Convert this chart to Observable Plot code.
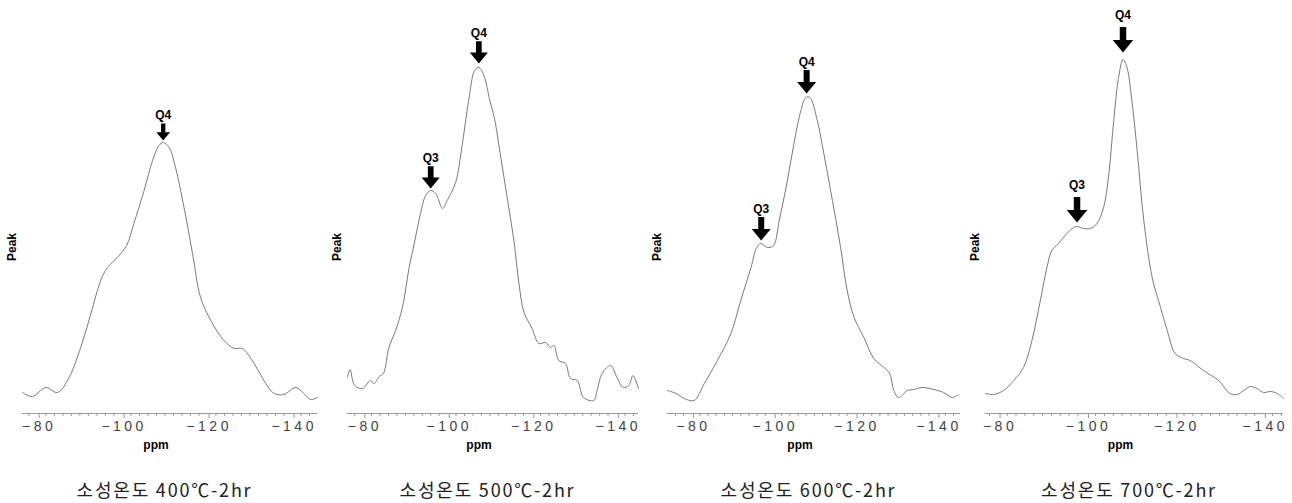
<!DOCTYPE html>
<html>
<head>
<meta charset="utf-8">
<script src="https://cdn.jsdelivr.net/npm/d3@7"></script>
<script src="https://cdn.jsdelivr.net/npm/@observablehq/plot@0.6"></script>
<style>
  body { margin: 0; background: #fff; }
  #wrap { position: relative; width: 1292px; height: 503px; overflow: hidden; background: #fff; }
  .panel { position: absolute; top: 0; }
  .cap { position: absolute; top: 479px; line-height: 20px; font-family: "Noto Sans CJK KR", sans-serif;
         font-size: 18px; letter-spacing: 1.8px; color: #222; white-space: nowrap; transform: translateX(-50%); }
</style>
</head>
<body>
<div id="wrap"></div>
<script>
// ---- data ----
const captions = ["소성온도 400℃-2hr", "소성온도 500℃-2hr", "소성온도 600℃-2hr", "소성온도 700℃-2hr"];
const tickValues = [-80, -100, -120, -140];

const ppm400 = [-76.5,-78.8,-82.0,-84.7,-87.1,-90.2,-92.6,-94.9,-96.5,-98.8,-101.0,-102.7,-105.1,-107.1,-108.6,-109.6,-111.0,-112.5,-114.5,-116.5,-118.4,-120.8,-123.9,-126.3,-128.2,-131.0,-133.3,-135.7,-138.0,-140.8,-142.7,-144.3,-145.9];
const peak400 = [19,15,24,19,31,64,98,131,144,154,166,188,221,251,266,269,264,244,204,158,114,91,71,63,63,48,31,18,17,24,18,12,14];

const ppm500 = [-76.3,-76.9,-78.0,-79.9,-81.7,-82.6,-83.8,-84.8,-86.1,-87.7,-89.3,-90.9,-92.1,-93.6,-94.8,-96.0,-97.2,-98.8,-99.9,-101.9,-103.5,-105.1,-106.4,-107.4,-108.6,-110.0,-111.1,-112.6,-114.1,-115.7,-116.9,-118.1,-120.0,-121.6,-123.2,-124.4,-125.2,-126.3,-127.9,-129.1,-130.7,-132.2,-134.6,-135.4,-136.6,-138.6,-140.1,-141.6,-142.9,-143.9,-145.2];
const peak500 = [34,42,26,23,31,28,35,38,64,81,104,144,168,198,216,221,218,203,211,229,268,314,341,344,336,311,293,254,214,171,128,99,83,68,69,64,66,51,48,33,31,14,11,21,38,46,34,24,26,36,23];

const ppm600 = [-74.1,-76.2,-78.2,-80.6,-83.1,-86.3,-89.6,-92.0,-94.5,-95.9,-96.9,-98.5,-100.0,-101.4,-103.4,-105.0,-106.7,-107.9,-108.9,-110.7,-112.3,-114.4,-116.4,-118.0,-119.7,-122.1,-124.5,-127.0,-128.4,-129.4,-130.6,-132.7,-134.3,-136.3,-139.2,-141.6,-143.7,-145.3];
const peak600 = [21,18,13,11,28,51,78,111,144,164,168,164,166,191,231,268,301,314,314,291,258,211,164,121,94,74,53,44,38,21,14,21,22,24,22,19,14,17];

const ppm700 = [-77.1,-78.9,-81.2,-83.5,-85.7,-87.6,-89.5,-91.0,-92.1,-93.6,-95.5,-96.7,-97.8,-99.3,-100.8,-102.3,-103.8,-105.0,-106.1,-107.2,-108.2,-109.1,-110.2,-111.4,-112.9,-114.8,-116.7,-118.2,-120.0,-121.9,-123.4,-126.4,-129.8,-132.4,-134.0,-135.5,-137.0,-138.5,-140.0,-141.5,-143.1,-144.5];
const peak700 = [18,17,21,31,44,71,111,144,161,168,178,183,185,183,183,188,204,238,291,334,352,344,311,261,191,134,104,81,58,53,51,41,31,18,17,21,25,23,19,20,18,13];

// Q-site arrow annotations (label, ppm, intensity the arrow points at)
const qLabels400 = ["Q4"],        qPpm400 = [-109.6],        qInt400 = [271];
const qLabels500 = ["Q3", "Q4"],  qPpm500 = [-96.0, -107.4], qInt500 = [223, 348];
const qLabels600 = ["Q3", "Q4"],  qPpm600 = [-97.0, -108.1], qInt600 = [171, 318];
const qLabels700 = ["Q3", "Q4"],  qPpm700 = [-97.8, -108.2], qInt700 = [189, 359];

// ---- layout (styles / positions) ----
const panels = [
  {ppm: ppm400, val: peak400, ql: qLabels400, qp: qPpm400, qi: qInt400, left: 2,   len: 295, dom: [-76.5, -145.9], arrow: 0.72, lab: 25},
  {ppm: ppm500, val: peak500, ql: qLabels500, qp: qPpm500, qi: qInt500, left: 327, len: 291, dom: [-76.3, -145.2], arrow: 0.95, lab: 30},
  {ppm: ppm600, val: peak600, ql: qLabels600, qp: qPpm600, qi: qInt600, left: 647, len: 293, dom: [-74.1, -145.7], arrow: 1.0,  lab: 31},
  {ppm: ppm700, val: peak700, ql: qLabels700, qp: qPpm700, qi: qInt700, left: 965, len: 298, dom: [-77.1, -144.5], arrow: 1.08, lab: 37}
];
const ML = 20, MR = 4, H = 460, MB = 47;
const TICK_SPACING = 3.5;

function arrowSymbol() {
  return {
    draw(ctx, size) {
      const k = Math.sqrt(size / Math.PI) / 10;
      const hw = 9.5 * k, hh = 11.5 * k, sw = 3 * k, sh = 12 * k;
      ctx.moveTo(0, 0);
      ctx.lineTo(-hw, -hh);
      ctx.lineTo(-sw, -hh);
      ctx.lineTo(-sw, -hh - sh);
      ctx.lineTo(sw, -hh - sh);
      ctx.lineTo(sw, -hh);
      ctx.lineTo(hw, -hh);
      ctx.closePath();
    }
  };
}

const wrap = document.getElementById("wrap");
panels.forEach((p, i) => {
  const line = p.ppm.map((x, j) => ({ppm: x, v: p.val[j]}));
  const ann = p.ql.map((q, j) => ({q, ppm: p.qp[j], v: p.qi[j]}));
  const minor = d3.range(-76, -147, -2).filter(t => t <= p.dom[0] && t >= p.dom[1] && t % 20 !== 0);
  const chart = Plot.plot({
    width: ML + p.len + MR,
    height: H,
    marginLeft: ML, marginRight: MR, marginTop: 0, marginBottom: MB,
    style: {fontFamily: "'Liberation Sans', Arial, sans-serif", background: "transparent", color: "#000"},
    x: {domain: p.dom},
    y: {domain: [-2, 411], axis: null},
    marks: [
      Plot.ruleY([-2], {stroke: "#999", strokeWidth: 1}),
      Plot.axisX(minor, {tickSize: 3, tickFormat: () => "", stroke: "#999", label: null}),
      Plot.axisX(tickValues, {tickSize: 5, tickPadding: 3, fontSize: 14, fill: "#444", stroke: "#999", label: null, dx: TICK_SPACING / 2}),
      Plot.line(line, {x: "ppm", y: "v", curve: "catmull-rom", stroke: "#7a7a7a", strokeWidth: 1}),
      Plot.dot(ann, {x: "ppm", y: "v", symbol: arrowSymbol(), r: 10 * p.arrow, fill: "#000", stroke: "none"}),
      Plot.text(ann, {x: "ppm", y: "v", text: "q", dy: -p.lab, fontSize: 12, fontWeight: "bold", fill: "#000"}),
      Plot.text(["Peak"], {frameAnchor: "left", textAnchor: "middle", lineAnchor: "middle", rotate: -90, dx: -10, dy: 40, fontSize: 12, fontWeight: "bold", fill: "#000"}),
      Plot.text(["ppm"], {frameAnchor: "bottom", textAnchor: "middle", lineAnchor: "middle", dx: -14, dy: 32, fontSize: 12, fontWeight: "bold", fill: "#000"})
    ]
  });
  // widen the tick labels' letter spacing like the reference
  chart.querySelectorAll("text").forEach(t => {
    if (/^[−-]\d+$/.test(t.textContent.trim())) t.setAttribute("letter-spacing", TICK_SPACING + "px");
  });
  const div = document.createElement("div");
  div.className = "panel";
  div.style.left = p.left + "px";
  div.appendChild(chart);
  wrap.appendChild(div);

  const cap = document.createElement("div");
  cap.className = "cap";
  cap.textContent = captions[i];
  cap.style.left = (p.left + ML + p.len / 2 - 5) + "px";
  wrap.appendChild(cap);
});
</script>
</body>
</html>
